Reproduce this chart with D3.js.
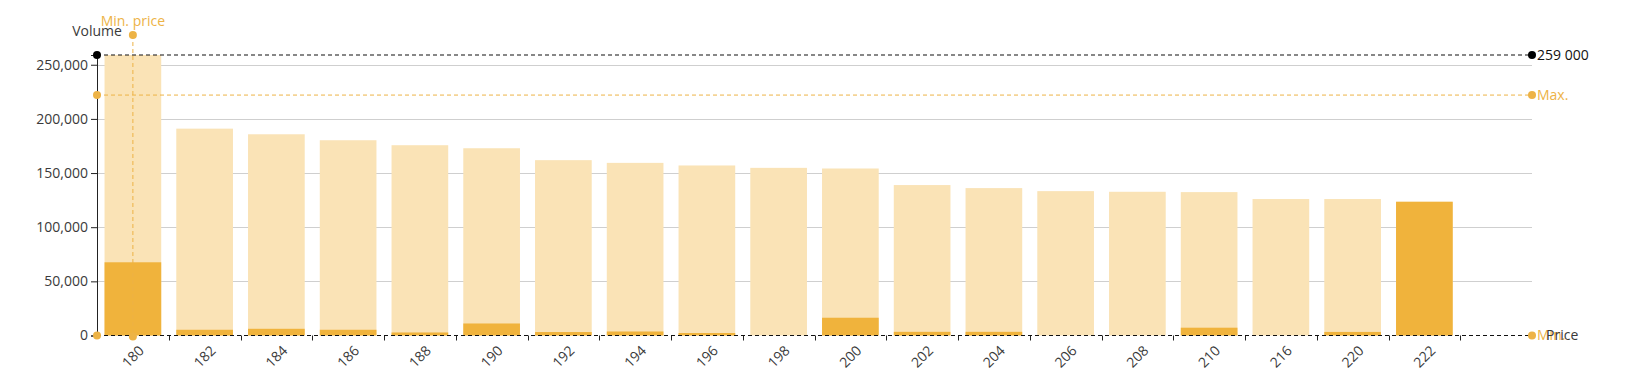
<!DOCTYPE html>
<html>
<head>
<meta charset="utf-8">
<script src="https://cdn.jsdelivr.net/npm/d3@7"></script>
<style>
  html, body { margin: 0; padding: 0; background: #fff; }
  svg { display: block; font-family: "Open Sans", "Segoe UI", sans-serif; }
</style>
</head>
<body>
<svg id="chart" width="1626" height="389"></svg>
<script>
// ---- data ----
const categories = ["180","182","184","186","188","190","192","194","196","198","200","202","204","206","208","210","216","220","222"];
const totalVolume = [259000,191000,185800,180300,175700,172900,161900,159400,157000,154800,154200,138900,136100,133300,132700,132400,126000,126000,123500];
const ownVolume   = [67600,5300,6200,5300,2800,11100,3200,3700,2300,0,16400,3400,3400,0,0,7200,0,3300,123500];
const yTicks = [0,50000,100000,150000,200000,250000];
const maxVolumeValue = 259000;
const maxLineValue = 222000;
const minLineValue = 0;
const minPriceCategory = "180";
const labels = { yTitle: "Volume", xTitle: "Price", maxVol: "259 000", max: "Max.", min: "Min.", minPrice: "Min. price" };

// ---- layout ----
const W = 1626, H = 389;
const margin = { top: 55, right: 94, bottom: 53.5, left: 97 };
const plotW = W - margin.left - margin.right;
const plotH = H - margin.top - margin.bottom;

const colLight = "#FAE3B6";
const colDark = "#F0B33C";
const colOrange = "#EDB346";
const colText = "#3a3a3a";

const svg = d3.select("#chart");
const g = svg.append("g").attr("transform", `translate(${margin.left},${margin.top})`);

const slots = categories.length + 1; // one empty slot after last category
const x = d3.scaleBand()
  .domain(categories)
  .range([0, plotW * categories.length / slots])
  .paddingInner(0.21)
  .paddingOuter(0.105);

const y = d3.scaleLinear().domain([0, maxVolumeValue]).range([plotH, 0]);

// gridlines
g.append("g").selectAll("line").data(yTicks.filter(d => d > 0)).join("line")
  .attr("x1", 0).attr("x2", plotW)
  .attr("y1", d => Math.round(y(d)) + 0.5).attr("y2", d => Math.round(y(d)) + 0.5)
  .attr("stroke", "#cfcfcf").attr("stroke-width", 1);

// bars
g.append("g").selectAll("rect").data(categories).join("rect")
  .attr("x", d => x(d)).attr("width", x.bandwidth())
  .attr("y", (d, i) => y(totalVolume[i]))
  .attr("height", (d, i) => plotH - y(totalVolume[i]))
  .attr("fill", colLight);

g.append("g").selectAll("rect").data(categories).join("rect")
  .attr("x", d => x(d)).attr("width", x.bandwidth())
  .attr("y", (d, i) => y(ownVolume[i]))
  .attr("height", (d, i) => plotH - y(ownVolume[i]))
  .attr("fill", colDark);

// y axis
const yAxis = d3.axisLeft(y).tickValues(yTicks).tickFormat(d3.format(",")).tickSizeOuter(0).tickSize(6).tickPadding(3);
const yg = g.append("g").call(yAxis);
yg.select(".domain").attr("stroke", "#222");
yg.selectAll(".tick line").attr("stroke", "#222");
yg.selectAll(".tick text").attr("fill", colText).style("font-size", "14px").style("font-family", "'Open Sans', sans-serif");

// x axis tick marks at band boundaries
const step = x.step();
const boundaries = d3.range(1, categories.length + 1).map(i => i * step);
g.append("g").selectAll("line").data(boundaries).join("line")
  .attr("x1", d => Math.round(d) + 0.5).attr("x2", d => Math.round(d) + 0.5)
  .attr("y1", plotH).attr("y2", plotH + 5)
  .attr("stroke", "#222");

// x labels
g.append("g").selectAll("text").data(categories).join("text")
  .attr("transform", d => `translate(${x(d) + x.bandwidth() / 2 + 5},${plotH + 9}) rotate(-45)`)
  .attr("text-anchor", "end").attr("dy", "0.71em")
  .attr("fill", colText).style("font-size", "14px")
  .text(d => d);

// reference lines
function hLine(val, color, dash, width) {
  g.append("line").attr("x1", 0).attr("x2", plotW)
    .attr("y1", y(val)).attr("y2", y(val))
    .attr("stroke", color).attr("stroke-dasharray", dash).attr("stroke-width", width);
}
hLine(maxVolumeValue, "#111", "4,3", 1.2);
hLine(maxLineValue, colOrange, "4,3", 1);
hLine(minLineValue, "#111", "4,3", 1.2);

// vertical min price line
const mpx = x(minPriceCategory) + x.bandwidth() / 2;
const mpTop = -20;
g.append("line").attr("x1", mpx).attr("x2", mpx).attr("y1", mpTop).attr("y2", plotH)
  .attr("stroke", colOrange).attr("stroke-dasharray", "4,3").attr("stroke-width", 1);

// dots
const dots = [
  [0, y(maxVolumeValue), "#000"], [plotW, y(maxVolumeValue), "#000"],
  [0, y(maxLineValue), colOrange], [plotW, y(maxLineValue), colOrange],
  [0, y(minLineValue), colOrange], [plotW, y(minLineValue), colOrange],
  [mpx, mpTop, colOrange], [mpx, plotH + 1, colOrange]
];
g.append("g").selectAll("circle").data(dots).join("circle")
  .attr("cx", d => d[0]).attr("cy", d => d[1]).attr("r", 4).attr("fill", d => d[2]);

// labels
g.append("text").attr("x", plotW + 5).attr("y", y(maxVolumeValue)).attr("dy", "0.35em")
  .attr("fill", "#111").style("font-size", "14px").text(labels.maxVol);
g.append("text").attr("x", plotW + 5).attr("y", y(maxLineValue)).attr("dy", "0.35em")
  .attr("fill", colOrange).style("font-size", "14px").text(labels.max);
g.append("text").attr("x", plotW + 5).attr("y", y(minLineValue)).attr("dy", "0.35em")
  .attr("fill", colOrange).style("font-size", "14px").text(labels.min);
g.append("text").attr("x", plotW + 14).attr("y", y(minLineValue)).attr("dy", "0.35em")
  .attr("fill", colText).style("font-size", "14px").text(labels.xTitle);
g.append("text").attr("x", 0).attr("y", -19).attr("text-anchor", "middle")
  .attr("fill", colText).style("font-size", "14px").text(labels.yTitle);
g.append("text").attr("x", mpx).attr("y", mpTop - 9).attr("text-anchor", "middle")
  .attr("fill", colOrange).style("font-size", "14px").text(labels.minPrice);
</script>
</body>
</html>
